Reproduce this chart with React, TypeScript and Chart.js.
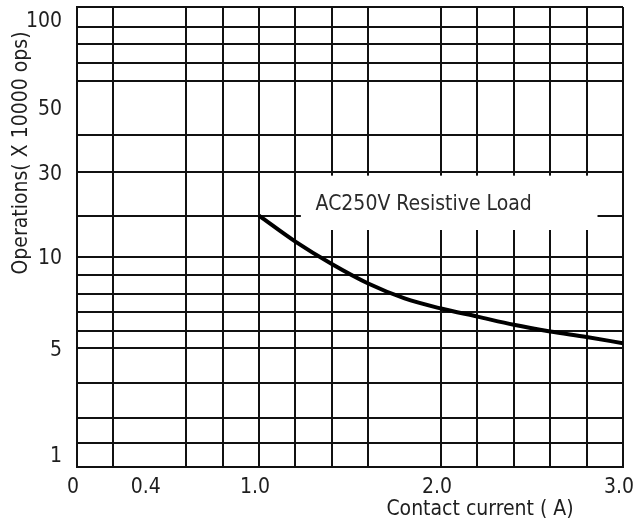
import React, { useEffect, useRef } from 'react';
import { Chart, registerables, LinearScale } from 'chart.js';

// ---- data ----
const CURRENT_A = [1.0, 1.2, 1.4, 1.6, 1.8, 2.0, 2.2, 2.4, 2.6, 2.8, 3.0];
const OPERATIONS = [20, 13.7, 9.6, 8.55, 7.76, 7.2, 6.76, 6.32, 5.96, 5.64, 5.28];

// ---- axis ticks ----
const X_LABEL_TICKS = [0, 0.4, 1.0, 2.0, 3.0];
const X_GRID_TICKS = [0, 0.2, 0.6, 0.8, 1.0, 1.2, 1.4, 1.6, 2.0, 2.2, 2.4, 2.6, 2.8, 3.0];
const Y_LABEL_TICKS = [1, 5, 10, 30, 50, 100];
const Y_GRID_TICKS = [1, 2, 3, 4, 5, 6, 7, 8, 9, 10, 20, 30, 40, 60, 70, 80, 90, 100];
// the printed chart paper is neither linear nor log: relative height of each grid value (0 = bottom, 1 = top)
const Y_PAPER_STOPS = [1, 2, 3, 4, 5, 6, 7, 8, 9, 10, 20, 30, 40, 60, 70, 80, 90, 100];
const Y_PAPER_HEIGHT = [0, 0.0528, 0.1056, 0.1816, 0.2585, 0.2961, 0.3367, 0.3758, 0.4178, 0.4569, 0.5466, 0.6409, 0.7213, 0.8399, 0.879, 0.9196, 0.9572, 1];

const NOTE_TEXT = 'AC250V Resistive Load';
const X_TITLE = 'Contact current ( A)';
const Y_TITLE = 'Operations( X 10000 ops)';

const FONT = "'DejaVu Sans Condensed', 'Noto Sans', sans-serif";
const LINE = '#111111';
const TEXT = '#1e1e1e';

function valueToFraction(v: number): number {
  const s = Y_PAPER_STOPS, h = Y_PAPER_HEIGHT;
  if (!isFinite(v)) return NaN;
  if (v <= s[0]) return h[0] + (v - s[0]) * (h[1] - h[0]) / (s[1] - s[0]);
  for (let i = 1; i < s.length; i++) {
    if (v <= s[i]) return h[i - 1] + (v - s[i - 1]) * (h[i] - h[i - 1]) / (s[i] - s[i - 1]);
  }
  const n = s.length - 1;
  return h[n] + (v - s[n]) * (h[n] - h[n - 1]) / (s[n] - s[n - 1]);
}
function fractionToValue(f: number): number {
  const s = Y_PAPER_STOPS, h = Y_PAPER_HEIGHT;
  for (let i = 1; i < h.length; i++) {
    if (f <= h[i]) return s[i - 1] + (f - h[i - 1]) * (s[i] - s[i - 1]) / (h[i] - h[i - 1]);
  }
  return s[s.length - 1];
}

class ChartPaperScale extends LinearScale {
  static id = 'chartpaper';
  getPixelForValue(value: number) {
    return (this as any).getPixelForDecimal(valueToFraction(value));
  }
  getValueForPixel(pixel: number) {
    return fractionToValue((this as any).getDecimalForPixel(pixel));
  }
}

Chart.register(...registerables, ChartPaperScale as any);

const X_ALL_TICKS = Array.from(new Set([...X_GRID_TICKS, ...X_LABEL_TICKS])).sort((a, b) => a - b);
const Y_ALL_TICKS = Array.from(new Set([...Y_GRID_TICKS, ...Y_LABEL_TICKS])).sort((a, b) => a - b);

const overlayPlugin = {
  id: 'paperOverlay',
  beforeDatasetsDraw(chart: any) {
    const { ctx } = chart;
    const xs = chart.scales.x, ys = chart.scales.y;
    const l = xs.getPixelForValue(1.23), r = xs.getPixelForValue(2.86);
    const t = ys.getPixelForValue(29.2), b = ys.getPixelForValue(16.5);
    ctx.save();
    ctx.fillStyle = '#ffffff';
    ctx.fillRect(l, t, r - l, b - t);
    ctx.fillStyle = '#2a2a2a';
    ctx.font = `21px ${FONT}`;
    ctx.textAlign = 'center';
    ctx.textBaseline = 'middle';
    ctx.fillText(NOTE_TEXT, xs.getPixelForValue(1.905), ys.getPixelForValue(22.5));
    ctx.restore();
  },
  afterDraw(chart: any) {
    const { ctx } = chart;
    ctx.save();
    ctx.fillStyle = TEXT;
    ctx.font = `21px ${FONT}`;
    ctx.textAlign = 'center';
    ctx.textBaseline = 'middle';
    ctx.fillText(X_TITLE, 480, 510);
    ctx.translate(22, 153);
    ctx.rotate(-Math.PI / 2);
    ctx.fillText(Y_TITLE, 0, 0);
    ctx.restore();
  },
};

function yLabel(v: number): string | string[] {
  if (!Y_LABEL_TICKS.includes(v)) return '';
  // the top and bottom labels sit inside the paper edge in the reference
  if (v === Y_LABEL_TICKS[Y_LABEL_TICKS.length - 1]) return ['', String(v)];
  if (v === Y_LABEL_TICKS[0]) return [String(v), ''];
  return String(v);
}

export default function App() {
  const ref = useRef<HTMLCanvasElement>(null);
  useEffect(() => {
    const canvas = ref.current;
    if (!canvas) return;
    const chart = new Chart(canvas, {
      type: 'line',
      data: {
        datasets: [
          {
            label: NOTE_TEXT,
            data: CURRENT_A.map((x, i) => ({ x, y: OPERATIONS[i] })),
            borderColor: '#000',
            borderWidth: 4,
            pointRadius: 0,
            fill: false,
            cubicInterpolationMode: 'monotone',
          } as any,
        ],
      },
      options: {
        animation: false,
        responsive: true,
        maintainAspectRatio: false,
        layout: { padding: { top: 7, right: 21, left: 0, bottom: 0 } },
        plugins: { legend: { display: false }, tooltip: { enabled: false } },
        scales: {
          x: {
            type: 'linear',
            min: 0,
            max: 3,
            afterBuildTicks: (s: any) => { s.ticks = X_ALL_TICKS.map((v) => ({ value: v })); },
            afterFit: (s: any) => { s.height = 60; s.paddingLeft = 0; s.paddingRight = 0; },
            ticks: {
              autoSkip: false,
              maxRotation: 0,
              minRotation: 0,
              padding: 8,
              labelOffset: -4,
              color: TEXT,
              font: { family: FONT, size: 21 },
              callback: (v: any) => (X_LABEL_TICKS.includes(Number(v)) ? (Number(v) === 0 ? '0' : Number(v).toFixed(1)) : ''),
            },
            grid: {
              drawTicks: false,
              lineWidth: 2,
              color: (c: any) => (c.tick && X_GRID_TICKS.includes(c.tick.value) ? LINE : 'rgba(0,0,0,0)'),
            },
            border: { display: true, color: LINE, width: 2 },
          },
          y: {
            type: 'chartpaper' as any,
            min: 1,
            max: 100,
            afterBuildTicks: (s: any) => { s.ticks = Y_ALL_TICKS.map((v) => ({ value: v })); },
            afterFit: (s: any) => { s.width = 77; s.paddingTop = 0; s.paddingBottom = 0; },
            ticks: {
              autoSkip: false,
              padding: 15,
              labelOffset: 2,
              color: TEXT,
              font: { family: FONT, size: 21 },
              callback: (v: any) => yLabel(Number(v)),
            },
            grid: {
              drawTicks: false,
              lineWidth: 2,
              color: (c: any) => (c.tick && Y_GRID_TICKS.includes(c.tick.value) ? LINE : 'rgba(0,0,0,0)'),
            },
            border: { display: true, color: LINE, width: 2 },
          } as any,
        },
      },
      plugins: [overlayPlugin as any],
    });
    return () => chart.destroy();
  }, []);
  return (
    <div style={{ position: 'absolute', left: 0, top: 0, width: 644, height: 527 }}>
      <canvas ref={ref} />
    </div>
  );
}
